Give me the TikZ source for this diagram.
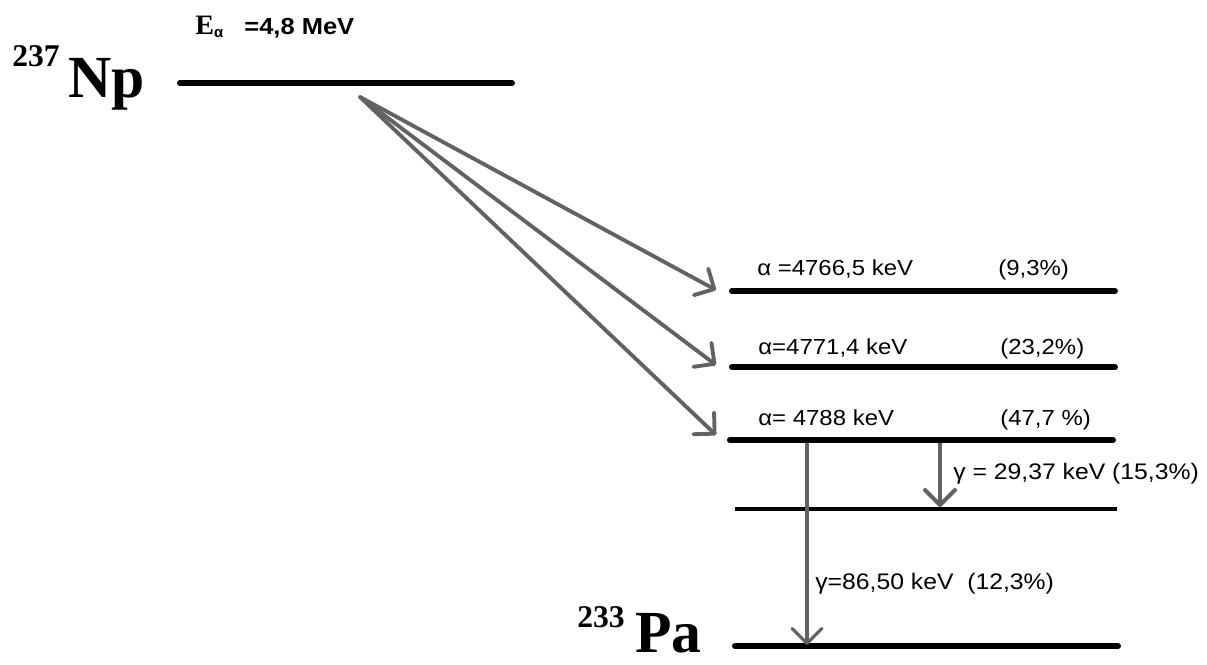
\documentclass[tikz,border=0pt]{standalone}
\usepackage{fontspec}
\setmainfont{Liberation Serif}
\newfontfamily\labelfont[FakeStretch=1.1]{Liberation Sans}
\newfontfamily\plainsans{Liberation Sans}
\usetikzlibrary{arrows.meta,positioning}
\definecolor{DecayGray}{HTML}{626262}

\begin{document}
\begin{tikzpicture}[
  x=0.02cm, y=-0.02cm,
  levelline/.style={line width=3.4pt, line cap=round},
  thinlevel/.style={line width=2.2pt},
  nuclide/.style={font=\bfseries\fontsize{34}{34}\selectfont, inner sep=0pt, anchor=base west},
  massno/.style={font=\bfseries\fontsize{18}{18}\selectfont, inner sep=0pt, anchor=base west},
  translabel/.style={font=\labelfont\fontsize{12.4}{14}\selectfont, inner sep=0pt, anchor=base west},
  alphaarrow/.style={-{Straight Barb[length=3mm,width=6mm,round]}, line width=2.2pt, line cap=round, draw=DecayGray},
  gammaarrow/.style={-{Straight Barb[length=3mm,width=6mm,round]}, line width=1.8pt, draw=DecayGray}
]
\useasboundingbox (0,0) rectangle (1207,664);
% levels
\coordinate (np-l) at (180,83);
\coordinate (np-r) at (512,83);
\coordinate (lv1-l) at (732,291);
\coordinate (lv1-r) at (1115,291);
\coordinate (lv2-l) at (732,367);
\coordinate (lv2-r) at (1115,367);
\coordinate (lv3-l) at (730,440);
\coordinate (lv3-r) at (1113,440);
\coordinate (lv4-l) at (735,509);
\coordinate (lv4-r) at (1117,509);
\coordinate (pa-l) at (735,646);
\coordinate (pa-r) at (1118,646);
\draw[levelline] (np-l) -- (np-r);
\draw[levelline] (lv1-l) -- (lv1-r);
\draw[levelline] (lv2-l) -- (lv2-r);
\draw[levelline] (lv3-l) -- (lv3-r);
\draw[thinlevel] (lv4-l) -- (lv4-r);
\draw[levelline] (pa-l) -- (pa-r);
% nuclides
\node[massno] (np-a) at (12,66) {237};
\node[nuclide] (np) at (68,97) {Np};
\node[massno] (pa-a) at (577,627) {233};
\node[nuclide] (pa) at (635,652) {Pa};
\node[anchor=base west, inner sep=0pt] (ealpha) at (195,34)
  {\bfseries\fontsize{16}{16}\selectfont E\raisebox{-0.25ex}{\plainsans\fontsize{8.5}{8}\selectfont α}\hspace{0.75em}{\labelfont\fontsize{13.2}{15}\selectfont =4,8 MeV}};
% alpha branches
\coordinate (src) at (360,97);
\coordinate (in1) at (716,290);
\coordinate (in2) at (716,365);
\coordinate (in3) at (716,435);
\draw[alphaarrow] (src) -- (in1);
\draw[alphaarrow] (src) -- (in2);
\draw[alphaarrow] (src) -- (in3);
\node[translabel] (e1) at (757,275) {α =4766,5 keV};
\node[translabel] (i1) at (998,275) {(9,3\%)};
\node[translabel] (e2) at (758,354) {α=4771,4 keV};
\node[translabel] (i2) at (1000,354) {(23,2\%)};
\node[translabel] (e3) at (758,425) {α= 4788 keV};
\node[translabel] (i3) at (1000,425) {(47,7 \%)};
% gamma transitions
\coordinate (g1-top) at (807,443);
\coordinate (g1-bot) at (807,645);
\coordinate (g2-top) at (940,443);
\coordinate (g2-bot) at (940,507);
\draw[gammaarrow] (g1-top) -- (g1-bot);
\draw[gammaarrow, line width=2.3pt] (g2-top) -- (g2-bot);
\node[translabel, font=\labelfont\fontsize{12.8}{14}\selectfont] (g2) at (953,479) {γ = 29,37 keV (15,3\%)};
\node[translabel, font=\labelfont\fontsize{12.8}{14}\selectfont] (g1) at (815,589) {γ=86,50 keV\ \ (12,3\%)};
\end{tikzpicture}
\end{document}
